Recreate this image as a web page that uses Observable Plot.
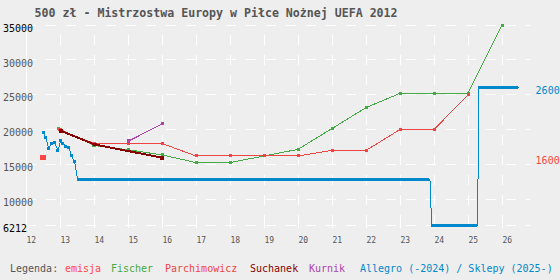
<!DOCTYPE html>
<html><head><meta charset="utf-8">
<script src="https://cdn.jsdelivr.net/npm/d3@7"></script>
<script src="https://cdn.jsdelivr.net/npm/@observablehq/plot@0.6"></script>
<style>
html,body{margin:0;padding:0;background:#eeeeee;}
#wrap{position:relative;width:560px;height:280px;overflow:hidden;font-family:"DejaVu Sans Mono",monospace;background:#eeeeee;}
#title{position:absolute;left:34.6px;top:5px;font-size:11.6px;font-weight:bold;color:#555;white-space:nowrap;line-height:16px;}
#legend span{position:absolute;top:261.5px;font-size:10px;white-space:nowrap;line-height:14px;}
#chart{position:absolute;left:0;top:0;}
</style></head>
<body><div id="wrap"><div id="chart"></div><div id="title"></div><div id="legend"></div></div>
<script>
const titleText = "500 zł - Mistrzostwa Europy w Piłce Nożnej UEFA 2012";

const xTicks = [12,13,14,15,16,17,18,19,20,21,22,23,24,25,26];
const yTicks = [6212,10000,15000,20000,25000,30000,35000];
const rightValues = [26000,16000];

const emisjaX = [12.5];
const emisjaY = [16000];

const fischerX = [12.97,14,15,16,17,18,19,20,21,22,23,24,25,26];
const fischerY = [20150,17700,17100,16350,15250,15250,16200,17150,20150,23150,25200,25200,25200,35000];

const parchX = [13,14,15,16,17,18,19,20,21,22,23,24,25];
const parchY = [19950,18000,18000,18000,16200,16200,16200,16200,17000,17000,20000,20000,25000];

const suchanekX = [13.03,14.02,16];
const suchanekY = [19800,17850,15950];

const kurnikX = [15.02,16.02];
const kurnikY = [18350,20850];

const allegroX = [12.52,12.58,12.67,12.74,12.85,12.94,13.02,13.08,13.17,13.26,13.34,13.43];
const allegroY = [19550,18880,17280,17930,18100,16950,18420,17980,17620,17450,16200,15380];
const allegroStepX = [13.52,23.88,23.93,25.28,25.32,26.48];
const allegroStepY = [12800,12800,6212,6212,26000,26000];

const legendLabels = ["Legenda:","emisja","Fischer","Parchimowicz","Suchanek","Kurnik","Allegro (-2024) / Sklepy (2025-)"];
const legendColors = ["#555555","#ff4444","#44aa44","#ee4444","#880000","#aa44aa","#0088cc"];
const rightColors = ["#0088cc","#ff4444"];

const C = {emisja:"#ff4444", fischer:"#44aa44", parch:"#ee4444", suchanek:"#880000", kurnik:"#aa44aa", allegro:"#0088cc"};
const fam = "DejaVu Sans Mono";
const zip = (xs, ys) => xs.map((x,i)=>({x, y: ys[i]}));

const emisja = zip(emisjaX, emisjaY);
const fischer = zip(fischerX, fischerY);
const parch = zip(parchX, parchY);
const suchanek = zip(suchanekX, suchanekY);
const kurnik = zip(kurnikX, kurnikY);
const allegroDots = zip(allegroX, allegroY);
const allegroSteps = zip(allegroStepX, allegroStepY);
const allegroAll = allegroDots.concat(allegroSteps);
const plateaus = [];
for (let i = 0; i + 1 < allegroSteps.length; i += 2) {
  plateaus.push({x1: allegroSteps[i].x, x2: allegroSteps[i+1].x, y: allegroSteps[i].y});
}

const yDomain = [d3.min(yTicks), d3.max(yTicks)];

const chart = Plot.plot({
  width: 560, height: 250,
  marginLeft: 25.5, marginRight: 29.9, marginTop: 24.6, marginBottom: 25,
  x: {domain: [12, 26.84], axis: null},
  y: {domain: yDomain, axis: null},
  style: {background: "transparent", overflow: "visible", fontFamily: fam},
  marks: [
    Plot.ruleY(yTicks, {y: d => d, stroke: "#ffffff", strokeDasharray: "10,10", strokeWidth: 1}),
    Plot.ruleX(xTicks.filter(d => d > 12), {x: d => d, y1: yDomain[0], y2: yDomain[1], stroke: "#ffffff", strokeDasharray: "10,10", strokeWidth: 1}),
    Plot.ruleX([12], {x: d => d, stroke: "#ffffff", strokeWidth: 1}),
    Plot.axisX({ticks: xTicks, tickSize: 3, stroke: "#ffffff", tickFormat: () => "", label: null}),
    Plot.text(xTicks, {x: d => d, frameAnchor: "bottom", dy: 15, dx: 0.5, textAnchor: "start", lineAnchor: "middle", text: d => String(d), fill: "#555", fontSize: 8, fontFamily: fam}),
    Plot.text(yTicks.filter(d => d !== yDomain[0] && d !== yDomain[1]), {y: d => d, frameAnchor: "left", dx: -23, dy: 3.5, textAnchor: "start", lineAnchor: "middle", text: d => String(d), fill: "#555", fontSize: 10, fontFamily: fam}),
    Plot.text(yTicks.filter(d => d === yDomain[0] || d === yDomain[1]), {y: d => d, frameAnchor: "left", dx: -23, dy: 3.5, textAnchor: "start", lineAnchor: "middle", text: d => String(d), fill: "#000", fontSize: 10, fontFamily: fam}),
    ...rightValues.map((v, i) => Plot.text([v], {y: d => d, frameAnchor: "right", dx: 5, dy: 3.5, textAnchor: "start", lineAnchor: "middle", text: d => String(d), fill: rightColors[i], fontSize: 10, fontFamily: fam})),
    Plot.line(fischer, {x: "x", y: "y", stroke: C.fischer, strokeWidth: 1}),
    Plot.dot(fischer, {x: "x", y: "y", symbol: "square", r: 1.7, fill: C.fischer}),
    Plot.line(parch, {x: "x", y: "y", stroke: C.parch, strokeWidth: 1}),
    Plot.dot(parch, {x: "x", y: "y", symbol: "square", r: 1.7, fill: C.parch}),
    Plot.line(suchanek, {x: "x", y: "y", stroke: C.suchanek, strokeWidth: 2}),
    Plot.dot(suchanek, {x: "x", y: "y", symbol: "square", r: 2.2, fill: C.suchanek}),
    Plot.line(kurnik, {x: "x", y: "y", stroke: C.kurnik, strokeWidth: 1}),
    Plot.dot(kurnik, {x: "x", y: "y", symbol: "square", r: 1.7, fill: C.kurnik}),
    Plot.dot(emisja, {x: "x", y: "y", symbol: "square", r: 3.1, fill: C.emisja}),
    Plot.line(allegroAll, {x: "x", y: "y", stroke: C.allegro, strokeWidth: 1}),
    Plot.dot(allegroDots, {x: "x", y: "y", symbol: "square", r: 1.7, fill: C.allegro}),
    Plot.ruleY(plateaus, {x1: "x1", x2: "x2", y: "y", stroke: C.allegro, strokeWidth: 3})
  ]
});
chart.style.shapeRendering = "crispEdges";
chart.querySelectorAll("text").forEach(t => t.style.shapeRendering = "auto");
document.getElementById("chart").appendChild(chart);
document.getElementById("title").textContent = titleText;

const legendLeft = [10, 65, 111, 165, 250, 309, 360];
const lg = document.getElementById("legend");
legendLabels.forEach((t, i) => {
  const s = document.createElement("span");
  s.textContent = t;
  s.style.color = legendColors[i];
  s.style.left = legendLeft[i] + "px";
  lg.appendChild(s);
});
</script>
</body></html>
